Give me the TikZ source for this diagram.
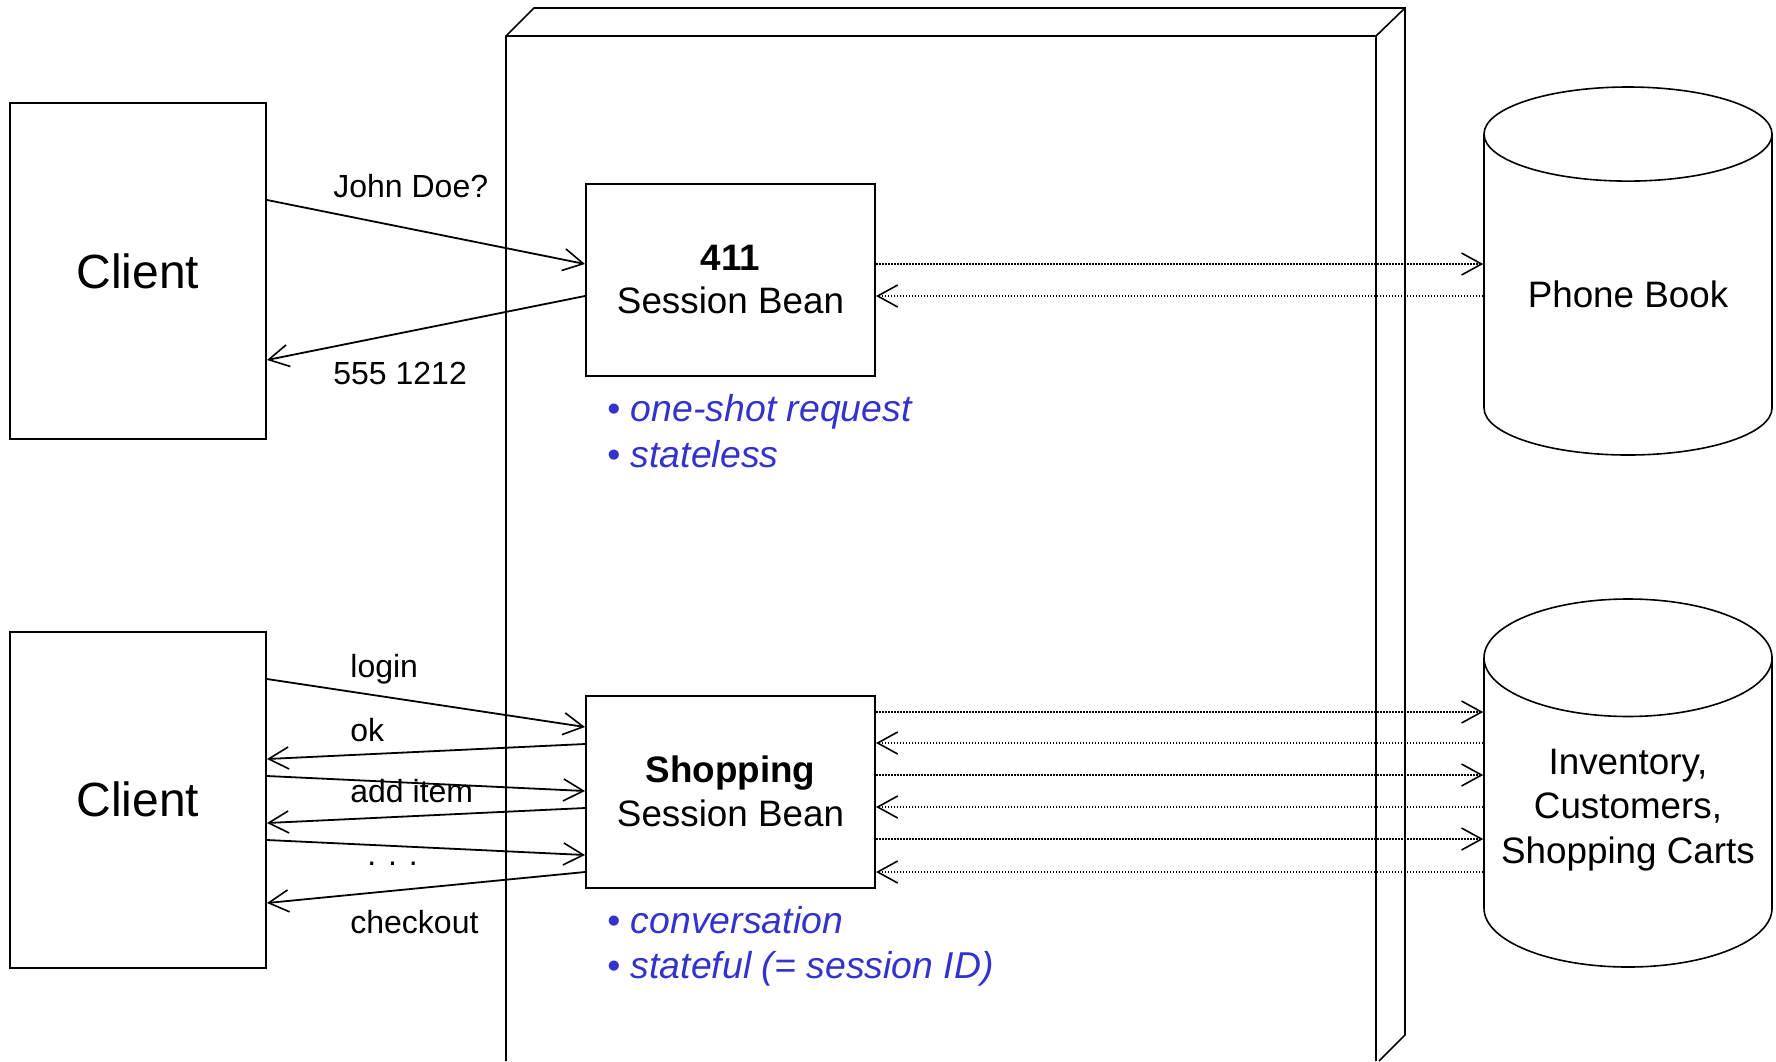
\documentclass[tikz,border=0pt]{standalone}
\usepackage{fontspec}
\setmainfont{Liberation Sans}
\usetikzlibrary{shapes.geometric, arrows.meta}
\definecolor{notecolor}{RGB}{51,51,204}
\tikzstyle{base} = [draw, line width=1pt, text centered]
\tikzstyle{client} = [base, rectangle, minimum width=128pt, minimum height=168pt, font=\fontsize{24}{28}\selectfont]
\tikzstyle{bean} = [base, rectangle, minimum width=144.5pt, minimum height=96pt, align=center, font=\fontsize{18.4}{21.7}\selectfont]
\tikzstyle{store} = [base, line width=0.8pt, cylinder, shape border rotate=90, aspect=0.44, minimum width=144pt, minimum height=184pt, anchor=shape center, align=center, font=\fontsize{18.4}{22.3}\selectfont]
\tikzstyle{message} = [anchor=base west, inner sep=0pt, font=\fontsize{16}{18}\selectfont]
\tikzstyle{note} = [anchor=base west, inner sep=0pt, text=notecolor, font=\fontsize{18.7}{22}\selectfont]
\tikzstyle{connector} = [draw, line width=0.9pt, -{Straight Barb[length=10pt, width=11pt, line width=0.8pt]}]
\tikzstyle{query} = [draw, line width=0.6pt, dash pattern=on 0.75pt off 0.75pt, -{Straight Barb[length=10pt, width=11pt, line width=0.8pt]}]

\begin{document}
\begin{tikzpicture}[x=0.5pt, y=-0.5pt]
	\useasboundingbox (0,0) rectangle (1776,1061);
	
	% bean container
	\draw [line width=0.8pt] (506,1061) -- (506,36) -- (534,8) -- (1405,8) -- (1405,1035) -- (1379,1061);
	\draw [line width=0.8pt] (1376,36) -- (1405,8);
	\draw [line width=1.3pt] (506,36) -- (1376,36) -- (1376,1061);
	
	\node [client] at (138, 271) (client one) {Client};
	\node [client] at (138, 799.5) (client two) {Client};
	
	\node [bean] at (730.5, 279.5) (info bean) {\textbf{411}\\Session Bean};
	\node [bean] at (730.5, 791.5) (shop bean) {\textbf{Shopping}\\Session Bean};
	
	\node [store, text depth=8pt] at (1628, 271) (phone book) {Phone Book};
	\node [store, text depth=15.3pt] at (1628, 783) (shop db) {Inventory,\\Customers,\\Shopping Carts};
	
	% stateless request
	\node [message] at (333, 197) (ask) {John Doe?};
	\node [message] at (333, 384) (answer) {555 1212};
	
	\path [connector] (client one.east |- 0,200) -- (info bean.west |- 0,264);
	\path [connector] (info bean.west |- 0,296) -- (client one.east |- 0,360);
	
	\path [query] (info bean.east |- 0,264) -- (phone book.west |- 0,264);
	\path [query] (phone book.west |- 0,296) -- (info bean.east |- 0,296);
	
	\node [note] at (607, 421) (oneshot) {\textbullet\ \textit{one-shot request}};
	\node [note] at (607, 467) (stateless) {\textbullet\ \textit{stateless}};
	
	% conversation
	\node [message] at (350, 677) (login) {login};
	\node [message] at (350, 741) (ok) {ok};
	\node [message] at (350, 802) (add item) {add item};
	\node [message] at (367, 865) (more) {. . .};
	\node [message] at (350, 933) (checkout) {checkout};
	
	\path [connector] (client two.east |- 0,679) -- (shop bean.west |- 0,727);
	\path [connector] (shop bean.west |- 0,744) -- (client two.east |- 0,759);
	\path [connector] (client two.east |- 0,776) -- (shop bean.west |- 0,791);
	\path [connector] (shop bean.west |- 0,808) -- (client two.east |- 0,823);
	\path [connector] (client two.east |- 0,840) -- (shop bean.west |- 0,855);
	\path [connector] (shop bean.west |- 0,872) -- (client two.east |- 0,903);
	
	\path [query] (shop bean.east |- 0,712) -- (shop db.west |- 0,712);
	\path [query] (shop db.west |- 0,743) -- (shop bean.east |- 0,743);
	\path [query] (shop bean.east |- 0,775) -- (shop db.west |- 0,775);
	\path [query] (shop db.west |- 0,807) -- (shop bean.east |- 0,807);
	\path [query] (shop bean.east |- 0,839) -- (shop db.west |- 0,839);
	\path [query] (shop db.west |- 0,872) -- (shop bean.east |- 0,872);
	
	\node [note] at (607, 933) (conversation) {\textbullet\ \textit{conversation}};
	\node [note] at (607, 978) (stateful) {\textbullet\ \textit{stateful (= session ID)}};
	
\end{tikzpicture}
\end{document}
